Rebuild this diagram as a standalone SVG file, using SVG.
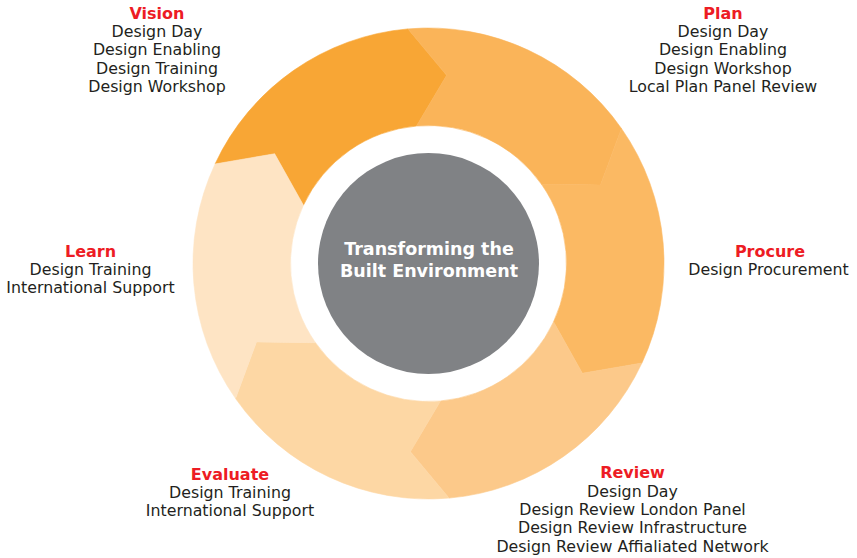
<svg xmlns="http://www.w3.org/2000/svg" width="857" height="558" viewBox="0 0 857 558">
<style>
.seg{stroke-width:0.6;stroke-linejoin:miter}
.t{font-family:"DejaVu Sans",sans-serif;font-size:15.8px;fill:#231f20;text-anchor:middle}
.h{font-family:"DejaVu Sans",sans-serif;font-size:16px;font-weight:bold;fill:#ed1c24;text-anchor:middle}
.c{font-family:"DejaVu Sans",sans-serif;font-size:17.5px;font-weight:bold;fill:#ffffff;text-anchor:middle}
</style>
<rect width="857" height="558" fill="#ffffff"/>
<g id="ring">
<g id="seg-vision"><path class="seg" fill="#f8a635" stroke="#f8a635" d="M215.06,163.97 A235.5,235.5 0 0 1 407.97,28.90 L446.62,75.37 L416.47,126.03 A138,138 0 0 0 303.43,205.18 L274.63,153.75 Z"/></g>
<g id="seg-plan"><path class="seg" fill="#fab459" stroke="#fab459" d="M407.97,28.90 A235.5,235.5 0 0 1 621.41,128.42 L600.48,185.12 L541.54,184.35 A138,138 0 0 0 416.47,126.03 L446.62,75.37 Z"/></g>
<g id="seg-procure"><path class="seg" fill="#fbb963" stroke="#fbb963" d="M621.41,128.42 A235.5,235.5 0 0 1 641.94,363.03 L582.37,373.25 L553.57,321.82 A138,138 0 0 0 541.54,184.35 L600.48,185.12 Z"/></g>
<g id="seg-review"><path class="seg" fill="#fcc98a" stroke="#fcc98a" d="M641.94,363.03 A235.5,235.5 0 0 1 449.03,498.10 L410.38,451.63 L440.53,400.97 A138,138 0 0 0 553.57,321.82 L582.37,373.25 Z"/></g>
<g id="seg-evaluate"><path class="seg" fill="#fdd7a4" stroke="#fdd7a4" d="M449.03,498.10 A235.5,235.5 0 0 1 235.59,398.58 L256.52,341.88 L315.46,342.65 A138,138 0 0 0 440.53,400.97 L410.38,451.63 Z"/></g>
<g id="seg-learn"><path class="seg" fill="#fee4c4" stroke="#fee4c4" d="M235.59,398.58 A235.5,235.5 0 0 1 215.06,163.97 L274.63,153.75 L303.43,205.18 A138,138 0 0 0 315.46,342.65 L256.52,341.88 Z"/></g>
</g>
<g id="center">
<circle cx="428.5" cy="263.5" r="110.5" fill="#808285"/>
<text class="c" x="429" y="255">Transforming the</text>
<text class="c" x="429" y="276.7">Built Environment</text>
</g>
<g id="label-vision">
<text class="h" x="157" y="19">Vision</text>
<text class="t" x="157" y="37.2">Design Day</text>
<text class="t" x="157" y="55.4">Design Enabling</text>
<text class="t" x="157" y="73.6">Design Training</text>
<text class="t" x="157" y="91.8">Design Workshop</text>
</g>
<g id="label-plan">
<text class="h" x="723" y="19">Plan</text>
<text class="t" x="723" y="37.2">Design Day</text>
<text class="t" x="723" y="55.4">Design Enabling</text>
<text class="t" x="723" y="73.6">Design Workshop</text>
<text class="t" x="723" y="91.8">Local Plan Panel Review</text>
</g>
<g id="label-procure">
<text class="h" x="770" y="256.8">Procure</text>
<text class="t" x="768.5" y="275">Design Procurement</text>
</g>
<g id="label-learn">
<text class="h" x="90.5" y="256.8">Learn</text>
<text class="t" x="90.5" y="275">Design Training</text>
<text class="t" x="90.5" y="293.2">International Support</text>
</g>
<g id="label-evaluate">
<text class="h" x="230" y="479.5">Evaluate</text>
<text class="t" x="230" y="497.7">Design Training</text>
<text class="t" x="230" y="515.9">International Support</text>
</g>
<g id="label-review">
<text class="h" x="632.5" y="478.3">Review</text>
<text class="t" x="632.5" y="496.6">Design Day</text>
<text class="t" x="632.5" y="514.9">Design Review London Panel</text>
<text class="t" x="632.5" y="533.2">Design Review Infrastructure</text>
<text class="t" x="632.5" y="551.5">Design Review Affialiated Network</text>
</g>
</svg>
